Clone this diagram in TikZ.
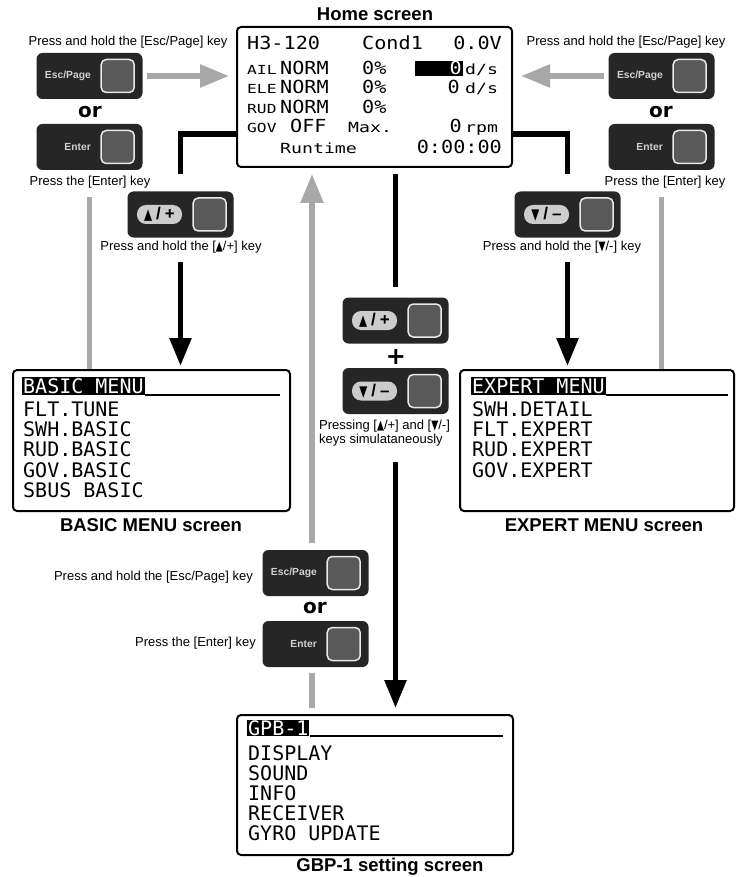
\documentclass[tikz,border=0pt]{standalone}
\usepackage{fontspec}
\usepackage{graphicx}
\setmainfont{Liberation Sans}
\newfontfamily\lcd{DejaVu Sans Mono}
\newfontfamily\lcdh[FakeStretch=1.12]{DejaVu Sans Mono}
\newfontfamily\lcds[FakeStretch=1.3]{DejaVu Sans Mono}
\newfontfamily\dvs{DejaVu Sans}
\usetikzlibrary{arrows.meta,calc}
\definecolor{keydark}{HTML}{262626}
\definecolor{keygray}{HTML}{595959}
\definecolor{keyedge}{HTML}{E8E8E8}
\definecolor{keylabel}{HTML}{D0D0D0}
\definecolor{pillgray}{HTML}{CCCCCC}
\definecolor{arrowgray}{HTML}{A8A8A8}
\newcommand\triup{\scalebox{0.7}[1]{\dvs ▲}}
\newcommand\tridn{\scalebox{0.7}[1]{\dvs ▼}}
\newcommand\pup{{\fontsize{15}{15}\selectfont\triup}\hspace{4pt}/\hspace{4pt}+}
\newcommand\pdn{{\fontsize{15}{15}\selectfont\tridn}\hspace{4pt}/\hspace{4pt}–}
\newcommand\txtkey[3]{%
  \node[keyouter] (#1) at (#2) {};
  \node[keyinner] (#1-sq) at ([xshift=-25pt]#1.east) {};
  \node[keytext] (#1-lbl) at ([xshift=1.5pt]#1.center) {#3};
}
\newcommand\pillkey[3]{%
  \node[keyouter] (#1) at (#2) {};
  \node[keyinner] (#1-sq) at ([xshift=-24pt]#1.east) {};
  \node[pill] (#1-pill) at ([xshift=-21pt]#1.center) {#3};
}
\begin{document}
\begin{tikzpicture}[x=1pt,y=-1pt,
  box/.style={draw, line width=2pt, rounded corners=4pt, inner sep=0, fill=white},
  keyouter/.style={fill=keydark, rounded corners=6pt, minimum width=106pt, minimum height=46pt, inner sep=0},
  keyinner/.style={fill=keygray, draw=keyedge, line width=1.5pt, rounded corners=5pt, minimum size=33pt, inner sep=0},
  keytext/.style={text=keylabel, font=\fontsize{10.3}{10.3}\selectfont\bfseries, anchor=east, inner sep=0},
  pill/.style={fill=pillgray, rounded corners=9pt, minimum width=45pt, minimum height=19pt, inner sep=0, font=\fontsize{17}{17}\selectfont\bfseries},
  lbl/.style={font=\fontsize{13}{14}\selectfont, inner sep=0},
  title/.style={font=\fontsize{18.5}{18.5}\selectfont\bfseries, inner sep=0},
  orn/.style={font=\dvs\fontsize{20}{20}\selectfont\bfseries, inner sep=0},
  plusn/.style={font=\dvs\fontsize{24}{24}\selectfont\bfseries, inner sep=0},
  hl/.style={font=\lcdh\fontsize{18}{18}\selectfont, inner sep=0, anchor=base west},
  sl/.style={font=\lcds\fontsize{12.5}{12.5}\selectfont, inner sep=0, anchor=base west},
  sll/.style={font=\lcds\fontsize{14}{14}\selectfont, inner sep=0, anchor=base west},
  ml/.style={font=\lcd\fontsize{20}{20}\selectfont, inner sep=0, anchor=west},
  inv/.style={fill=black, text=white, inner xsep=1pt, inner ysep=0pt, minimum height=18pt},
  grayarrow/.style={draw=arrowgray, line width=5.5pt, -{Triangle[length=29pt,width=22pt]}},
  grayline/.style={draw=arrowgray, line width=5.5pt},
  blackline/.style={line width=5.5pt},
  blackarrow/.style={line width=5.5pt, -{Triangle[length=28pt,width=21pt]}}
]
\useasboundingbox (0,0) rectangle (736,877);

% ---------- Home screen ----------
\node[title] (homet) at (375,14) {Home screen};
\node[box, minimum width=275pt, minimum height=140pt] (home) at (374.5,97) {};
\node[hl] (h11) at (247,49.5) {H3-120};
\node[hl] (h12) at (362,49.5) {Cond1};
\node[hl, anchor=base east] (h13) at (502,49.5) {0.0V};
\node[sl] (h21) at (247,75) {AIL};
\node[hl] (h22) at (280,75) {NORM};
\node[hl] (h23) at (362,75) {0\%};
\fill (415,61) rectangle (463,76);
\node[hl, anchor=base east, text=white] (h24) at (462,75) {0};
\node[sll] (h25) at (465,75) {d/s};
\node[sl] (h31) at (247,94) {ELE};
\node[hl] (h32) at (280,94) {NORM};
\node[hl] (h33) at (362,94) {0\%};
\node[hl, anchor=base east] (h34) at (460,94) {0};
\node[sll] (h35) at (465,94) {d/s};
\node[sl] (h41) at (247,113.5) {RUD};
\node[hl] (h42) at (280,113.5) {NORM};
\node[hl] (h43) at (362,113.5) {0\%};
\node[sl] (h51) at (247,133) {GOV};
\node[hl] (h52) at (290,133) {OFF};
\node[sll] (h53) at (348,133) {Max.};
\node[hl, anchor=base east] (h54) at (462,133) {0};
\node[sll] (h55) at (465,133) {rpm};
\node[sll] (h61) at (280,153.5) {Runtime};
\node[hl, anchor=base east] (h62) at (502,153.5) {0:00:00};

% ---------- BASIC MENU ----------
\node[box, minimum width=277pt, minimum height=141pt] (basic) at (151.5,440.5) {};
\node[ml, inv] (bh) at (22,386) {BASIC MENU};
\draw[line width=1.5pt] (bh.south east) -- (bh.south east -| 280,0);
\node[ml] (b1) at (23,409) {FLT.TUNE};
\node[ml] (b2) at (23,429) {SWH.BASIC};
\node[ml] (b3) at (23,449) {RUD.BASIC};
\node[ml] (b4) at (23,470) {GOV.BASIC};
\node[ml] (b5) at (23,490) {SBUS BASIC};
\node[title] (basict) at (151,525) {BASIC MENU screen};

% ---------- EXPERT MENU ----------
\node[box, minimum width=274pt, minimum height=141pt] (expert) at (597,440.5) {};
\node[ml, inv] (eh) at (471,386) {EXPERT MENU};
\draw[line width=1.5pt] (eh.south east) -- (eh.south east -| 728,0);
\node[ml] (e1) at (472,409) {SWH.DETAIL};
\node[ml] (e2) at (472,429) {FLT.EXPERT};
\node[ml] (e3) at (472,449) {RUD.EXPERT};
\node[ml] (e4) at (472,470) {GOV.EXPERT};
\node[title] (expertt) at (604,525) {EXPERT MENU screen};

% ---------- GBP-1 ----------
\node[box, minimum width=276pt, minimum height=140pt] (gbp) at (375,785) {};
\node[ml, inv, minimum height=16pt] (gh) at (247,728) {GPB-1};
\draw[line width=1.5pt] (gh.south east) -- (gh.south east -| 503,0);
\node[ml] (g1) at (248,753) {DISPLAY};
\node[ml] (g2) at (248,773) {SOUND};
\node[ml] (g3) at (248,793) {INFO};
\node[ml] (g4) at (248,813) {RECEIVER};
\node[ml] (g5) at (248,833) {GYRO UPDATE};
\node[title] (gbpt) at (390,867) {GBP-1 setting screen};

% ---------- keys ----------
\txtkey{lesc}{89.5,76}{Esc/Page}
\node[orn] (lor) at (90,112) {or};
\txtkey{lent}{89.5,147}{Enter}
\txtkey{resc}{661.5,76}{Esc/Page}
\node[orn] (ror) at (661,112) {or};
\txtkey{rent}{661.5,147}{Enter}
\pillkey{lup}{180.5,214.5}{\pup}
\pillkey{rdn}{567.5,214.5}{\pdn}
\pillkey{cup}{395.5,320.5}{\pup}
\node[plusn] (cplus) at (396,357) {+};
\pillkey{cdn}{395.5,391}{\pdn}
\txtkey{besc}{315.5,573}{Esc/Page}
\node[orn] (bor) at (315,608) {or};
\txtkey{bent}{315.5,644}{Enter}

% ---------- labels ----------
\node[lbl] (lesct) at (128,42) {Press and hold the [Esc/Page] key};
\node[lbl] (lentt) at (90,182) {Press the [Enter] key};
\node[lbl] (resct) at (626,42) {Press and hold the [Esc/Page] key};
\node[lbl] (rentt) at (665,182) {Press the [Enter] key};
\node[lbl] (lupt) at (181,247) {Press and hold the [\triup/+] key};
\node[lbl] (rdnt) at (562,247) {Press and hold the [\tridn/-] key};
\node[lbl, anchor=north west, align=left] (ct) at (319,420) {Pressing [\triup/+] and [\tridn/-]\\keys simulataneously};
\node[lbl, anchor=east] (besct) at (253,577) {Press and hold the [Esc/Page] key};
\node[lbl, anchor=east] (bentt) at (256,643) {Press the [Enter] key};

% ---------- connectors ----------
\draw[grayarrow] ([xshift=4pt]lesc.east) -- ([xshift=-7pt]home.west |- lesc.east);
\draw[grayarrow] ([xshift=-4pt]resc.west) -- ([xshift=8pt]home.east |- resc.west);
\draw[grayline] (lent.center |- 0,197) -- (lent.center |- basic.north);
\draw[grayline] (rent.center |- 0,197) -- (rent.center |- expert.north);

\draw[blackline] (home.west |- 0,134) -| ([yshift=17pt]lup.north);
\draw[blackarrow] (lup.center |- 0,262) -- ([yshift=3pt]basic.north -| lup.center);
\draw[blackline] (home.east |- 0,134) -| ([yshift=17pt]rdn.north);
\draw[blackarrow] (rdn.center |- 0,262) -- ([yshift=3pt]expert.north -| rdn.center);

\draw[blackline] ([yshift=-6pt]home.south -| cup.center) -- ([yshift=10pt]cup.north);
\draw[blackarrow] (cdn.center |- 0,462) -- ([yshift=6pt]gbp.north -| cdn.center);

\coordinate (gx) at (312,0);
\draw[grayarrow] ([yshift=7pt]besc.north -| gx) -- ([yshift=-6pt]home.south -| gx);
\draw[grayline] ([yshift=-6pt]bent.south -| gx) -- ([yshift=6pt]gbp.north -| gx);
\end{tikzpicture}
\end{document}
